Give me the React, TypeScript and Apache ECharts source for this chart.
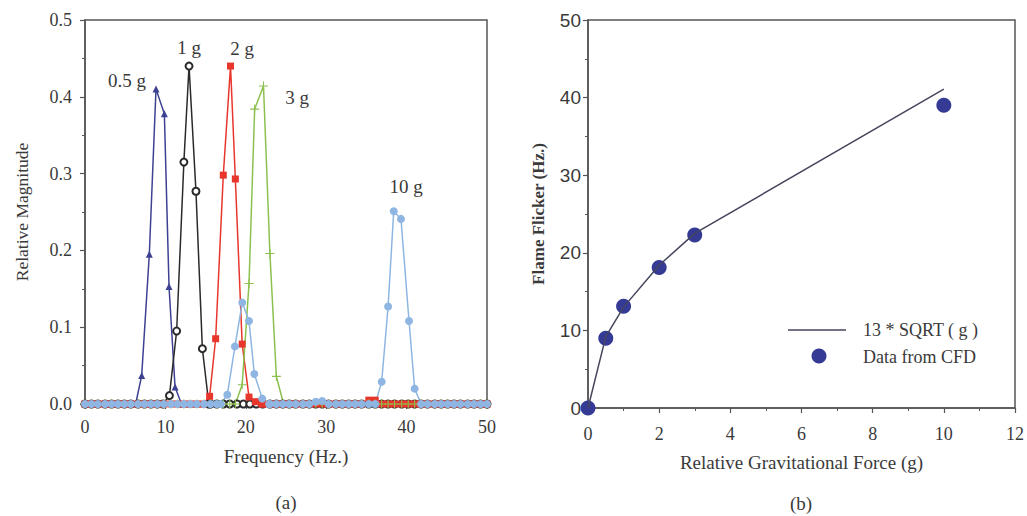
import React, { useEffect, useRef } from "react";
import * as echarts from "echarts";

// Common frequency grid (Hz) of the spectra baseline
const BASE_FREQ = [0.0, 0.8, 1.6, 2.5, 3.3, 4.1, 4.9, 5.7, 6.6, 7.4, 8.2, 9.0, 9.8, 10.7, 11.5, 12.3, 13.1, 13.9, 14.8, 15.6, 16.4, 17.2, 18.0, 18.9, 19.7, 20.5, 21.3, 22.1, 23.0, 23.8, 24.6, 25.4, 26.2, 27.1, 27.9, 28.7, 29.5, 30.3, 31.2, 32.0, 32.8, 33.6, 34.4, 35.3, 36.1, 36.9, 37.7, 38.5, 39.4, 40.2, 41.0, 41.8, 42.6, 43.5, 44.3, 45.1, 45.9, 46.7, 47.6, 48.4, 49.2, 50.0];

// Peak segments [frequency, relative magnitude]
const G05_PEAK = [[6.3, 0], [7.05, 0.037], [8.0, 0.195], [8.83, 0.41], [9.87, 0.378], [10.45, 0.153], [11.2, 0.022], [12.0, 0]];
const G1_PEAK = [[9.7, 0], [10.5, 0.011], [11.4, 0.095], [12.3, 0.315], [12.94, 0.44], [13.8, 0.277], [14.6, 0.072], [15.4, 0]];
const G2_PEAK = [[14.7, 0], [15.5, 0.01], [16.25, 0.085], [17.2, 0.298], [18.1, 0.44], [18.7, 0.293], [19.55, 0.078], [20.4, 0.009], [21.2, 0.003], [22.0, 0]];
const G2_BUMP = [[34.4, 0], [35.3, 0.005], [36.1, 0.005], [36.9, 0]];
const G3_PEAK = [[18.7, 0], [19.55, 0.025], [20.4, 0.157], [21.1, 0.384], [22.2, 0.414], [23.0, 0.196], [23.8, 0.036], [24.7, 0]];
const G10_PEAK1 = [[16.9, 0], [17.7, 0.012], [18.65, 0.075], [19.56, 0.132], [20.4, 0.108], [21.06, 0.039], [22.05, 0.007], [22.9, 0]];
const G10_BUMP = [[27.9, 0], [28.7, 0.003], [29.5, 0.004], [30.3, 0]];
const G10_PEAK2 = [[36.1, 0], [36.9, 0.029], [37.7, 0.127], [38.4, 0.251], [39.3, 0.241], [40.3, 0.108], [41.0, 0.02], [41.8, 0]];

// Right chart
const G_VALUES = [0, 0.5, 1, 2, 3, 10];
const CFD_FLICKER = [0, 9.0, 13.1, 18.1, 22.3, 39.0];
const SQRT_FIT = [0, 9.2, 13.0, 18.4, 22.5, 41.1];
const LEGEND_LABELS = ["13 * SQRT ( g )", "Data from CFD"];

const SERIF = "Liberation Serif";
const TXT = "#3a3a3a";

function build(segments: number[][][]) {
  const ranges = segments.map((s) => [s[0][0], s[s.length - 1][0]]);
  const base = BASE_FREQ.filter((x) => !ranges.some(([a, b]) => x >= a && x <= b)).map((x) => [x, 0]);
  const all = [...base];
  segments.forEach((s) => s.forEach((p) => all.push(p)));
  return all.sort((p, q) => p[0] - q[0]);
}

const PLUS = "path://M4.4,0H5.6V4.4H10V5.6H5.6V10H4.4V5.6H0V4.4H4.4Z";

export default function App() {
  const ref = useRef<HTMLDivElement>(null);
  useEffect(() => {
    const chart = echarts.init(ref.current!, null, { renderer: "svg" });
    const axisLine = { show: true, lineStyle: { color: "#555", width: 1.5 } };
    const tickStyle = { show: true, length: 5, lineStyle: { color: "#555", width: 1.2 } };
    const minor = { show: true, splitNumber: 2, length: 3, lineStyle: { color: "#555", width: 1 } };
    const lbl = { color: TXT, fontFamily: SERIF, fontSize: 18 };

    const lineSeries = (name: string, data: number[][], color: string, symbol: string, size: number) => ({
      name,
      type: "line",
      xAxisIndex: 0,
      yAxisIndex: 0,
      data,
      symbol,
      symbolSize: size,
      showAllSymbol: true,
      lineStyle: { color, width: 1.5 },
      itemStyle: { color, borderWidth: symbol === "emptyCircle" ? 1.5 : 0 },
    });

    const txt = (text: string, x: number, y: number, size = 18, align = "center") => ({
      type: "text",
      x,
      y,
      style: { text, font: `${size}px '${SERIF}'`, fill: TXT, align, verticalAlign: "middle" },
    });

    chart.setOption({
      animation: false,
      backgroundColor: "#fff",
      grid: [
        { left: 85, top: 20, width: 402, height: 384, show: true, borderColor: "#555", borderWidth: 1.5, backgroundColor: "transparent" },
        { left: 588, top: 20, width: 428, height: 388, show: true, borderColor: "#555", borderWidth: 1.5, backgroundColor: "transparent" },
      ],
      xAxis: [
        {
          gridIndex: 0, type: "value", min: 0, max: 50, interval: 10,
          axisLine, axisTick: tickStyle, splitLine: { show: false },
          axisLabel: { ...lbl, margin: 14 },
          name: "Frequency (Hz.)", nameLocation: "middle", nameGap: 43, nameTextStyle: { ...lbl, fontSize: 19 },
        },
        {
          gridIndex: 1, type: "value", min: 0, max: 12, interval: 2,
          axisLine, axisTick: tickStyle, minorTick: minor, splitLine: { show: false },
          axisLabel: { ...lbl, margin: 17 },
          name: "Relative Gravitational Force (g)", nameLocation: "middle", nameGap: 45, nameTextStyle: { ...lbl, fontSize: 19 },
        },
      ],
      yAxis: [
        {
          gridIndex: 0, type: "value", min: 0, max: 0.5, interval: 0.1,
          axisLine, axisTick: tickStyle, minorTick: minor, splitLine: { show: false },
          axisLabel: { ...lbl, margin: 13, formatter: (v: number) => v.toFixed(1) },
          name: "Relative Magnitude", nameLocation: "middle", nameGap: 54, nameTextStyle: { ...lbl, fontSize: 17.5 },
        },
        {
          gridIndex: 1, type: "value", min: 0, max: 50, interval: 10,
          axisLine, axisTick: tickStyle, minorTick: minor, splitLine: { show: false },
          axisLabel: { color: TXT, fontFamily: "Liberation Sans", fontSize: 19, margin: 7 },
          name: "Flame Flicker (Hz.)", nameLocation: "middle", nameGap: 41, nameTextStyle: { ...lbl, fontSize: 17, fontWeight: "bold" },
        },
      ],
      series: [
        lineSeries("0.5 g", build([G05_PEAK]), "#3d4192", "triangle", 7),
        lineSeries("1 g", build([G1_PEAK]), "#2a2a2a", "emptyCircle", 7),
        lineSeries("2 g", build([G2_PEAK, G2_BUMP]), "#e8362d", "rect", 7),
        lineSeries("3 g", build([G3_PEAK]), "#8cc04e", PLUS, 9),
        lineSeries("10 g", build([G10_PEAK1, G10_BUMP, G10_PEAK2]), "#8fb6e2", "circle", 8),
        {
          name: LEGEND_LABELS[0],
          type: "line",
          xAxisIndex: 1,
          yAxisIndex: 1,
          data: G_VALUES.map((g, i) => [g, SQRT_FIT[i]]),
          showSymbol: false,
          symbol: "none",
          lineStyle: { color: "#45455e", width: 1.5 },
        },
        {
          name: LEGEND_LABELS[1],
          type: "scatter",
          xAxisIndex: 1,
          yAxisIndex: 1,
          data: G_VALUES.map((g, i) => [g, CFD_FLICKER[i]]),
          symbol: "circle",
          symbolSize: 15,
          itemStyle: { color: "#353a94", opacity: 1 },
        },
      ],
      graphic: [
        txt("0.5 g", 127, 80, 19),
        txt("1 g", 189, 47, 19),
        txt("2 g", 242, 48, 19),
        txt("3 g", 297, 97, 19),
        txt("10 g", 406, 186, 19),
        txt("(a)", 286, 502, 19),
        txt("(b)", 801, 503, 19),
        { type: "line", shape: { x1: 788, y1: 330, x2: 846, y2: 330 }, style: { stroke: "#45455e", lineWidth: 1.5 } },
        { type: "circle", shape: { cx: 819, cy: 356, r: 7.5 }, style: { fill: "#353a94" } },
        txt(LEGEND_LABELS[0], 863, 330, 18, "left"),
        txt(LEGEND_LABELS[1], 863, 357, 18, "left"),
      ],
    });
    return () => chart.dispose();
  }, []);
  return <div ref={ref} style={{ position: "fixed", left: 0, top: 0, width: 1027, height: 516 }} />;
}
